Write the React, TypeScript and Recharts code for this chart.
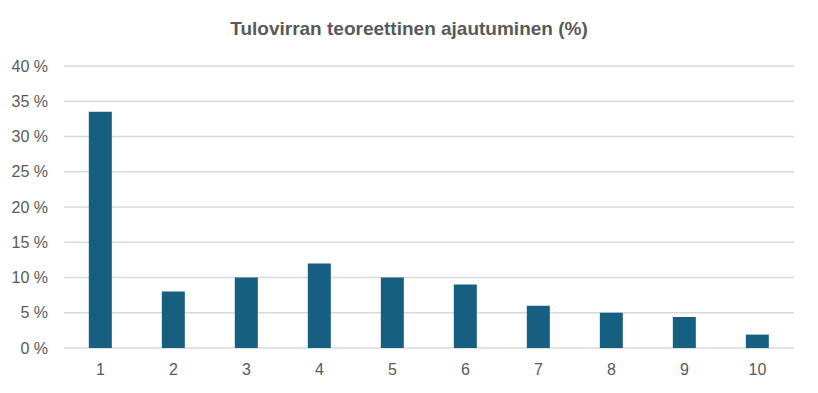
import { BarChart, Bar, XAxis, YAxis, CartesianGrid } from "recharts";

const categories = ["1", "2", "3", "4", "5", "6", "7", "8", "9", "10"];
const drift = [33.5, 8, 10, 12, 10, 9, 6, 5, 4.4, 1.9];
const yTicks = [0, 5, 10, 15, 20, 25, 30, 35, 40];

const data = categories.map((c, i) => ({ name: c, value: drift[i] }));

const tickStyle = { fontSize: 16, fill: "#595959", fontFamily: "Liberation Sans, Arial, sans-serif" };

export default function App() {
  return (
    <div style={{ position: "absolute", left: 0, top: 0, width: 818, height: 393, background: "#fff" }}>
      <div
        style={{
          position: "absolute",
          top: 18,
          left: 0,
          width: 818,
          textAlign: "center",
          fontFamily: "Liberation Sans, Arial, sans-serif",
          fontWeight: "bold",
          fontSize: 19,
          color: "#595959",
        }}
      >
        Tulovirran teoreettinen ajautuminen (%)
      </div>
      <BarChart
        width={818}
        height={393}
        data={data}
        margin={{ top: 66, right: 24, bottom: 15, left: 0 }}
        barCategoryGap="34%"
      >
        <CartesianGrid vertical={false} stroke="#D9D9D9" strokeWidth={1.5} />
        <XAxis
          dataKey="name"
          axisLine={false}
          tickLine={false}
          tick={tickStyle}
          tickMargin={10}
        />
        <YAxis
          domain={[0, 40]}
          ticks={yTicks}
          axisLine={false}
          tickLine={false}
          tick={tickStyle}
          tickMargin={10}
          width={64}
          tickFormatter={(v) => `${v} %`}
        />
        <Bar dataKey="value" fill="#175F80" isAnimationActive={false} />
      </BarChart>
    </div>
  );
}
